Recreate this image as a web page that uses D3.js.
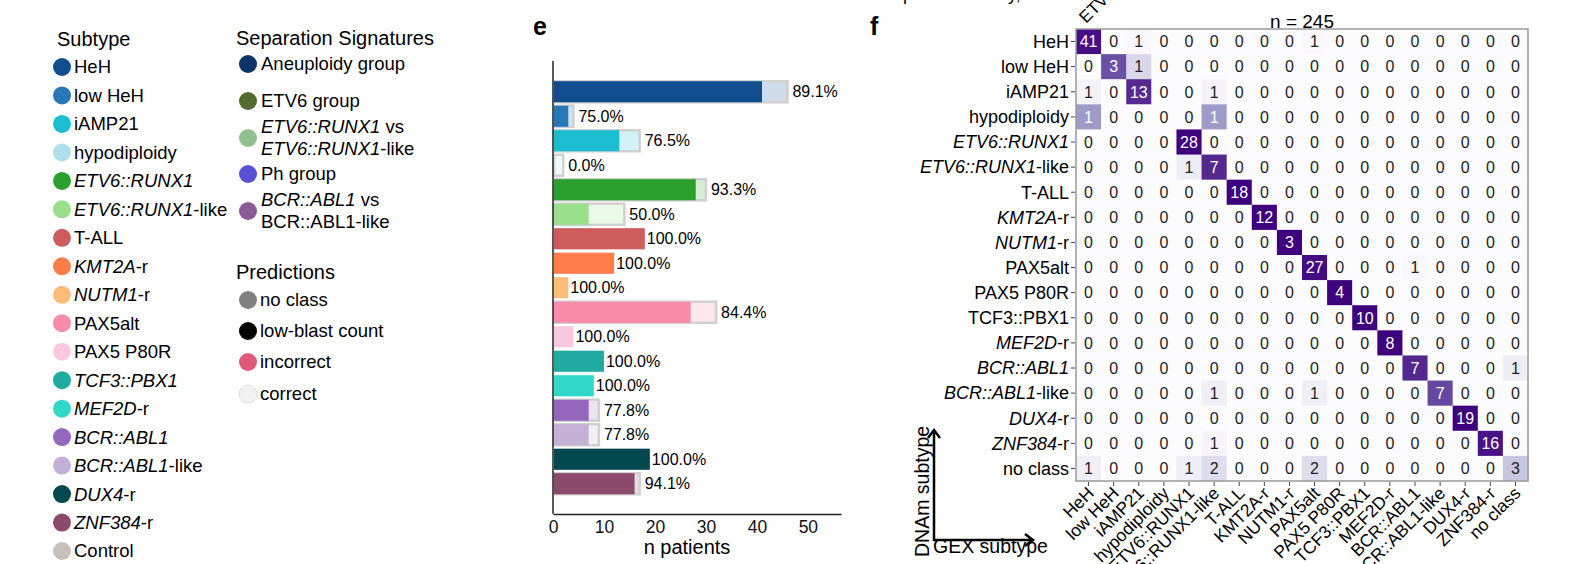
<!DOCTYPE html>
<html>
<head>
<meta charset="utf-8">
<script src="https://cdn.jsdelivr.net/npm/d3@7"></script>
<style>
  body { margin: 0; background: #fff; }
  svg { display: block; font-family: "Liberation Sans", Arial, sans-serif; }
</style>
</head>
<body>
<svg width="1584" height="564"></svg>
<script>
// ---- data ----
const subtypes = ["HeH", "low HeH", "iAMP21", "hypodiploidy", "ETV6::RUNX1", "ETV6::RUNX1-like",
  "T-ALL", "KMT2A-r", "NUTM1-r", "PAX5alt", "PAX5 P80R", "TCF3::PBX1", "MEF2D-r",
  "BCR::ABL1", "BCR::ABL1-like", "DUX4-r", "ZNF384-r"];
const subtypeColors = ["#114d8f", "#2878b8", "#1bbdd0", "#ade0eb", "#2ca02c", "#98df8a",
  "#cf5c5c", "#fd7c4a", "#ffbb78", "#f78ba8", "#f8c8e2", "#20aaa0", "#30d8c8",
  "#9467bd", "#c5b0d5", "#03484f", "#8b4a6b"];
const controlColor = "#c9c0ba";

const nTotal   = [46, 4, 17, 2, 30, 14, 18, 12, 3, 32, 4, 10, 8, 9, 9, 19, 17];
const nCorrect = [41, 3, 13, 0, 28, 7, 18, 12, 3, 27, 4, 10, 8, 7, 7, 19, 16];
const xTicks = [0, 10, 20, 30, 40, 50];

const sepLabels = [["Aneuploidy group"], ["ETV6 group"], ["*ETV6::RUNX1* vs", "*ETV6::RUNX1*-like"],
  ["Ph group"], ["*BCR::ABL1* vs", "BCR::ABL1-like"]];
const sepColors = ["#0b3468", "#546b2f", "#8fc08f", "#5a50d6", "#8a5a94"];

const predLabels = ["no class", "low-blast count", "incorrect", "correct"];
const predColors = ["#808080", "#000000", "#e0587c", "#f1f1f1"];

// confusion matrix: rows = DNAm subtype, cols = GEX subtype
const matrixLabels = subtypes.concat(["no class"]);
const confusion = [
  [41,0,1,0,0,0,0,0,0,1,0,0,0,0,0,0,0,0],
  [0,3,1,0,0,0,0,0,0,0,0,0,0,0,0,0,0,0],
  [1,0,13,0,0,1,0,0,0,0,0,0,0,0,0,0,0,0],
  [1,0,0,0,0,1,0,0,0,0,0,0,0,0,0,0,0,0],
  [0,0,0,0,28,0,0,0,0,0,0,0,0,0,0,0,0,0],
  [0,0,0,0,1,7,0,0,0,0,0,0,0,0,0,0,0,0],
  [0,0,0,0,0,0,18,0,0,0,0,0,0,0,0,0,0,0],
  [0,0,0,0,0,0,0,12,0,0,0,0,0,0,0,0,0,0],
  [0,0,0,0,0,0,0,0,3,0,0,0,0,0,0,0,0,0],
  [0,0,0,0,0,0,0,0,0,27,0,0,0,1,0,0,0,0],
  [0,0,0,0,0,0,0,0,0,0,4,0,0,0,0,0,0,0],
  [0,0,0,0,0,0,0,0,0,0,0,10,0,0,0,0,0,0],
  [0,0,0,0,0,0,0,0,0,0,0,0,8,0,0,0,0,0],
  [0,0,0,0,0,0,0,0,0,0,0,0,0,7,0,0,0,1],
  [0,0,0,0,0,1,0,0,0,1,0,0,0,0,7,0,0,0],
  [0,0,0,0,0,0,0,0,0,0,0,0,0,0,0,19,0,0],
  [0,0,0,0,0,1,0,0,0,0,0,0,0,0,0,0,16,0],
  [1,0,0,0,1,2,0,0,0,2,0,0,0,0,0,0,0,3]
];

// which part of a name is a gene (italic)
const italicPart = {"ETV6::RUNX1": "ETV6::RUNX1", "ETV6::RUNX1-like": "ETV6::RUNX1", "KMT2A-r": "KMT2A",
  "NUTM1-r": "NUTM1", "TCF3::PBX1": "TCF3::PBX1", "MEF2D-r": "MEF2D", "BCR::ABL1": "BCR::ABL1",
  "BCR::ABL1-like": "BCR::ABL1", "DUX4-r": "DUX4", "ZNF384-r": "ZNF384"};

const svg = d3.select("svg");

function addLabel(sel, label, italic) {
  const it = italic ? italicPart[label] : null;
  if (it) {
    sel.append("tspan").attr("font-style", "italic").text(it);
    const rest = label.slice(it.length);
    if (rest) sel.append("tspan").text(rest);
  } else {
    sel.text(label);
  }
}
// "*abc* def" -> italic abc + normal def
function addMarked(sel, str) {
  str.split("*").forEach((part, i) => {
    if (!part) return;
    const t = sel.append("tspan").text(part);
    if (i % 2 === 1) t.attr("font-style", "italic");
  });
}

// cut-off bits of the panel above
svg.append("text").attr("x", 903).attr("y", 0).attr("font-size", 18).text("p");
svg.append("text").attr("x", 1008).attr("y", 0).attr("font-size", 18).text("y,");
svg.append("text").attr("transform", "translate(1086,24) rotate(-45)").attr("font-size", 17).text("ETV6::RUNX1");

// ---- legends ----
const leg1 = svg.append("g");
leg1.append("text").attr("x", 57).attr("y", 46).attr("font-size", 20).text("Subtype");
const legY = d3.scaleLinear().domain([0, 17]).range([67, 551]);
const legItems = subtypes.map((s, i) => ({label: s, color: subtypeColors[i]}))
  .concat([{label: "Control", color: controlColor}]);
legItems.forEach((d, i) => {
  leg1.append("circle").attr("cx", 62).attr("cy", legY(i)).attr("r", 9).attr("fill", d.color);
  const t = leg1.append("text").attr("x", 74).attr("y", legY(i)).attr("dy", "0.35em").attr("font-size", 18.5);
  addLabel(t, d.label, true);
});

const leg2 = svg.append("g");
leg2.append("text").attr("x", 236).attr("y", 45).attr("font-size", 20).text("Separation Signatures");
const sepY = [64, 101, 138, 174, 211];
sepLabels.forEach((lines, i) => {
  leg2.append("circle").attr("cx", 248).attr("cy", sepY[i]).attr("r", 9).attr("fill", sepColors[i]);
  lines.forEach((ln, j) => {
    const t = leg2.append("text").attr("x", 261)
      .attr("y", sepY[i] + (lines.length > 1 ? (j - 0.5) * 22 : 0))
      .attr("dy", "0.35em").attr("font-size", 18.5);
    addMarked(t, ln);
  });
});
leg2.append("text").attr("x", 236).attr("y", 279).attr("font-size", 20).text("Predictions");
const predY = [300, 331, 362, 394];
predLabels.forEach((p, i) => {
  leg2.append("circle").attr("cx", 248).attr("cy", predY[i]).attr("r", 9).attr("fill", predColors[i])
    .attr("stroke", i === 3 ? "#dddddd" : "none");
  leg2.append("text").attr("x", 260).attr("y", predY[i]).attr("dy", "0.35em").attr("font-size", 18.5).text(p);
});

// ---- panel e: bars ----
svg.append("text").attr("x", 533).attr("y", 35).attr("font-size", 25).attr("font-weight", "bold").text("e");

const x = d3.scaleLinear().domain([0, 56.5]).range([553, 841]);
const y = d3.scaleBand().domain(subtypes).range([79.5, 496]).paddingInner(0.14).paddingOuter(0.07);
const bars = svg.append("g");

const rows = subtypes.map((s, i) => ({s, color: subtypeColors[i], total: nTotal[i], ok: nCorrect[i]}));

bars.selectAll(".total").data(rows).enter().append("rect")
  .attr("x", x(0) + 1)
  .attr("y", d => y(d.s))
  .attr("width", d => x(d.total) - x(0) - 1)
  .attr("height", y.bandwidth())
  .attr("fill", d => d3.interpolateRgb("#ffffff", d.color)(0.2))
  .attr("stroke", d => d.ok < d.total ? "#d0d0d0" : "none")
  .attr("stroke-width", 2.5);

bars.selectAll(".ok").data(rows).enter().append("rect")
  .attr("x", x(0) + 1)
  .attr("y", d => y(d.s))
  .attr("width", d => Math.max(0, x(d.ok) - x(0) - 1))
  .attr("height", y.bandwidth())
  .attr("fill", d => d.color);

bars.selectAll(".lbl").data(rows).enter().append("text")
  .attr("x", d => x(d.total) + (d.ok < d.total ? 5 : 2))
  .attr("y", d => y(d.s) + y.bandwidth() / 2)
  .attr("dy", "0.35em")
  .attr("font-size", 16)
  .text(d => (100 * d.ok / d.total).toFixed(1) + "%");

svg.append("line").attr("x1", 553).attr("x2", 553).attr("y1", 61).attr("y2", 514)
  .attr("stroke", "#222").attr("stroke-width", 1.5);
const xAxis = svg.append("g").attr("transform", "translate(0,514)")
  .call(d3.axisBottom(x).tickValues(xTicks).tickSize(0).tickPadding(7).tickSizeOuter(0));
xAxis.select(".domain").attr("stroke", "#222").attr("stroke-width", 1.5);
xAxis.selectAll("text").attr("font-size", 17.5).attr("font-family", "Liberation Sans, Arial, sans-serif").attr("fill", "#111");
svg.append("text").attr("x", 687).attr("y", 554).attr("text-anchor", "middle").attr("font-size", 20).text("n patients");

// ---- panel f: confusion matrix ----
svg.append("text").attr("x", 870).attr("y", 35).attr("font-size", 25).attr("font-weight", "bold").text("f");

const cx = d3.scaleBand().domain(matrixLabels).range([1076, 1528]);
const cy = d3.scaleBand().domain(matrixLabels).range([29, 481]);
const rowSums = confusion.map(r => d3.sum(r));
const cells = [];
confusion.forEach((r, i) => r.forEach((v, j) => cells.push({r: matrixLabels[i], c: matrixLabels[j], v, f: v / rowSums[i]})));

const mat = svg.append("g");
mat.selectAll("rect.cell").data(cells).enter().append("rect")
  .attr("x", d => cx(d.c)).attr("y", d => cy(d.r))
  .attr("width", cx.bandwidth() + 0.5).attr("height", cy.bandwidth() + 0.5)
  .attr("fill", d => d3.interpolatePurples(d.f));
mat.selectAll("text.cell").data(cells).enter().append("text")
  .attr("x", d => cx(d.c) + cx.bandwidth() / 2)
  .attr("y", d => cy(d.r) + cy.bandwidth() / 2)
  .attr("dy", "0.36em").attr("text-anchor", "middle").attr("font-size", 16)
  .attr("fill", d => d.f >= 0.5 ? "#ffffff" : "#222")
  .text(d => d.v);
mat.append("rect").attr("x", 1076).attr("y", 29).attr("width", 452).attr("height", 452)
  .attr("fill", "none").attr("stroke", "#9a9a9a").attr("stroke-width", 1.5);

// row labels (DNAm)
matrixLabels.forEach(l => {
  const yc = cy(l) + cy.bandwidth() / 2;
  mat.append("line").attr("x1", 1071).attr("x2", 1075).attr("y1", yc).attr("y2", yc).attr("stroke", "#444");
  const t = mat.append("text").attr("x", 1069).attr("y", yc).attr("dy", "0.35em")
    .attr("text-anchor", "end").attr("font-size", 18);
  addLabel(t, l, l !== "TCF3::PBX1");
});
// column labels (GEX)
matrixLabels.forEach(l => {
  const xc = cx(l) + cx.bandwidth() / 2;
  mat.append("line").attr("x1", xc).attr("x2", xc).attr("y1", 482).attr("y2", 486).attr("stroke", "#444");
  mat.append("text").attr("transform", `translate(${xc + 2},${490}) rotate(-45)`)
    .attr("dy", "0.35em").attr("text-anchor", "end").attr("font-size", 17.5).text(l);
});
svg.append("text").attr("x", 1302).attr("y", 28).attr("text-anchor", "middle").attr("font-size", 19).text("n = 245");

// axis arrows
const arr = svg.append("g").attr("stroke", "#000").attr("stroke-width", 2.5).attr("fill", "none");
arr.append("path").attr("d", "M934,541 V431 M928,438 L934,430 L940,438");
arr.append("path").attr("d", "M933,540 H1032 M1025,534 L1033,540 L1025,546");
svg.append("text").attr("transform", "translate(929,557) rotate(-90)").attr("font-size", 19.5).text("DNAm subtype");
svg.append("text").attr("x", 933).attr("y", 553).attr("font-size", 19.5).text("GEX subtype");
</script>
</body>
</html>
